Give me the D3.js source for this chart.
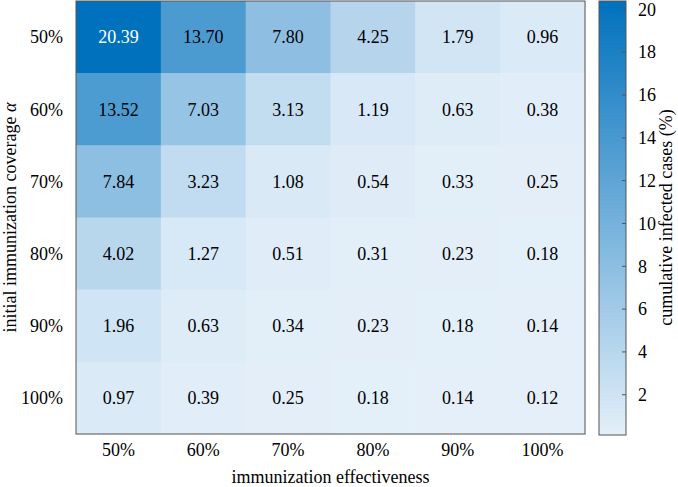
<!DOCTYPE html>
<html><head><meta charset="utf-8">
<script src="https://cdn.jsdelivr.net/npm/d3@7"></script>
<style>body{margin:0;background:#fff}svg{display:block}</style>
</head><body>
<svg id="c" width="678" height="487"></svg>
<script>
const effectiveness = ["50%","60%","70%","80%","90%","100%"];
const coverage = ["50%","60%","70%","80%","90%","100%"];
const values = [
  [20.39,13.70,7.80,4.25,1.79,0.96],
  [13.52,7.03,3.13,1.19,0.63,0.38],
  [7.84,3.23,1.08,0.54,0.33,0.25],
  [4.02,1.27,0.51,0.31,0.23,0.18],
  [1.96,0.63,0.34,0.23,0.18,0.14],
  [0.97,0.39,0.25,0.18,0.14,0.12]
];
const cbTicks = [2,4,6,8,10,12,14,16,18,20];

const svg = d3.select("#c");
const font = "'Liberation Serif','Times New Roman',serif";
const L=76,R=585,T=1,B=434;
const x = d3.scaleBand().domain(effectiveness).range([L,R]);
const y = d3.scaleBand().domain(coverage).range([T,B]);
const flat = values.flat();
const vmin = d3.min(flat), vmax = d3.max(flat);
const color = d3.scaleLinear().domain([vmin,vmax]).range(["#e4eff9","#0071bd"]).interpolate(d3.interpolateRgb);

const cells = [];
values.forEach((row,i)=>row.forEach((v,j)=>cells.push({r:coverage[i],c:effectiveness[j],v})));
svg.selectAll("rect.cell").data(cells).join("rect").attr("class","cell")
  .attr("x",d=>x(d.c)).attr("y",d=>y(d.r))
  .attr("width",x.bandwidth()+0.5).attr("height",y.bandwidth()+0.5)
  .attr("fill",d=>color(d.v));
svg.selectAll("text.val").data(cells).join("text").attr("class","val")
  .attr("x",d=>x(d.c)+x.bandwidth()/2).attr("y",d=>y(d.r)+y.bandwidth()/2)
  .attr("dy","0.35em").attr("text-anchor","middle")
  .attr("font-family",font).attr("font-size",18)
  .attr("fill",d=>d.v>vmax*0.8?"#fff":"#000")
  .text(d=>d.v.toFixed(2));
svg.append("rect").attr("x",L).attr("y",T).attr("width",R-L).attr("height",B-T)
  .attr("fill","none").attr("stroke","#555").attr("stroke-width",1);

// axis labels
svg.selectAll("text.xl").data(effectiveness).join("text").attr("class","xl")
  .attr("x",d=>x(d)+x.bandwidth()/2).attr("y",456).attr("text-anchor","middle")
  .attr("font-family",font).attr("font-size",18).text(d=>d);
svg.selectAll("text.yl").data(coverage).join("text").attr("class","yl")
  .attr("x",63).attr("y",d=>y(d)+y.bandwidth()/2).attr("dy","0.35em").attr("text-anchor","end")
  .attr("font-family",font).attr("font-size",18).text(d=>d);
svg.append("text").attr("x",(L+R)/2).attr("y",483).attr("text-anchor","middle")
  .attr("font-family",font).attr("font-size",18).text("immunization effectiveness");
const yt = svg.append("text").attr("transform",`translate(16,${(T+B)/2}) rotate(-90)`)
  .attr("text-anchor","middle").attr("font-family",font).attr("font-size",18);
yt.append("tspan").text("initial immunization coverage ");
yt.append("tspan").attr("font-style","italic").text("α");

// colorbar
const CL=599,CR=626;
const cy = d3.scaleLinear().domain([vmin,vmax]).range([B+1,T]);
const defs = svg.append("defs");
const g = defs.append("linearGradient").attr("id","cb").attr("x1",0).attr("y1",1).attr("x2",0).attr("y2",0);
d3.range(0,1.0001,0.1).forEach(t=>g.append("stop").attr("offset",t).attr("stop-color",color(vmin+t*(vmax-vmin))));
svg.append("rect").attr("x",CL).attr("y",T).attr("width",CR-CL).attr("height",B+1-T)
  .attr("fill","url(#cb)").attr("stroke","#555").attr("stroke-width",1);
svg.selectAll("line.cbt").data(cbTicks).join("line").attr("class","cbt")
  .attr("x1",CR-4).attr("x2",CR).attr("y1",d=>cy(d)).attr("y2",d=>cy(d))
  .attr("stroke","#555").attr("stroke-width",1);
svg.selectAll("text.cbl").data(cbTicks).join("text").attr("class","cbl")
  .attr("x",638).attr("y",d=>cy(d)).attr("dy","0.35em")
  .attr("font-family",font).attr("font-size",18).text(d=>d);
svg.append("text").attr("transform",`translate(672,${(T+B)/2}) rotate(-90)`)
  .attr("text-anchor","middle").attr("font-family",font).attr("font-size",18)
  .text("cumulative infected cases (%)");
</script>
</body></html>
